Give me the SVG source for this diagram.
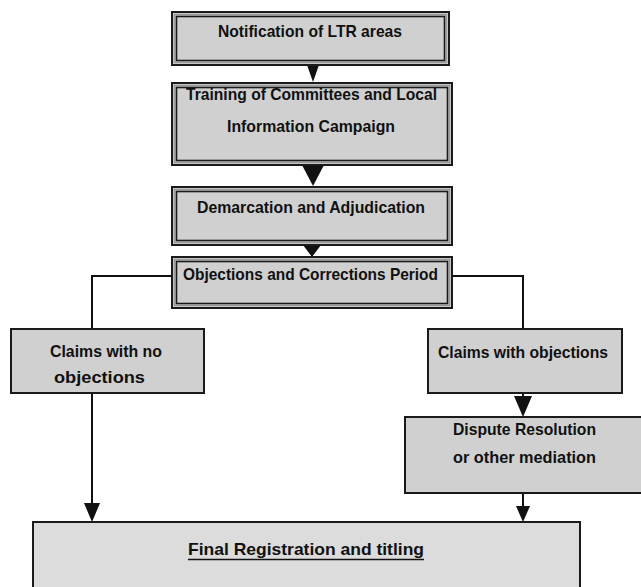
<svg xmlns="http://www.w3.org/2000/svg" width="641" height="587" viewBox="0 0 641 587">
  <style>
    .t { font-family: "Liberation Sans", Arial, sans-serif; font-weight: bold; font-size: 17px; fill: #111; text-anchor: middle; }
    .outer { fill: #d0d0d0; stroke: #1a1a1a; stroke-width: 2; }
    .inner { fill: none; stroke: #1a1a1a; stroke-width: 1.6; }
    .gap { fill: none; stroke: #9a9a9a; stroke-width: 1.4; }
    .box { fill: #d0d0d0; stroke: #1a1a1a; stroke-width: 2; }
    .final { fill: #dcdcdc; stroke: #1a1a1a; stroke-width: 2; }
    .wire { fill: none; stroke: #111; stroke-width: 2; }
    .head { fill: #111; }
  </style>

  <rect width="641" height="587" fill="#ffffff"/>

  <!-- connectors -->
  <g id="connectors">
    <polygon class="head" points="307,65 319,65 313,82"/>
    <polygon class="head" points="302,165 324,165 313,186"/>
    <polygon class="head" points="303,245 321,245 312,257"/>
    <polyline class="wire" points="172,276 92,276 92,329"/>
    <polyline class="wire" points="452,276 523,276 523,329"/>
    <line class="wire" x1="92" y1="393" x2="92" y2="505"/>
    <polygon class="head" points="84,503 100,503 92,522"/>
    <line class="wire" x1="523" y1="393" x2="523" y2="400"/>
    <polygon class="head" points="514,396 532,396 523,417"/>
    <line class="wire" x1="523" y1="493" x2="523" y2="508"/>
    <polygon class="head" points="516,506 530,506 523,522"/>
  </g>

  <g id="notification">
    <rect class="outer" x="172" y="12" width="277" height="53"/>
    <rect class="gap" x="174.5" y="14.5" width="272" height="48"/>
    <rect class="inner" x="176.5" y="16.5" width="268" height="44"/>
    <text class="t" x="310" y="37" textLength="184" lengthAdjust="spacingAndGlyphs">Notification of LTR areas</text>
  </g>

  <g id="training">
    <rect class="outer" x="172" y="83" width="280" height="82"/>
    <rect class="gap" x="174.5" y="85.5" width="275" height="77"/>
    <rect class="inner" x="176.5" y="87.5" width="271" height="73"/>
    <text class="t" x="311.5" y="100" textLength="251" lengthAdjust="spacingAndGlyphs">Training of Committees and Local</text>
    <text class="t" x="311" y="132" textLength="168" lengthAdjust="spacingAndGlyphs">Information Campaign</text>
  </g>

  <g id="demarcation">
    <rect class="outer" x="172" y="187" width="280" height="58"/>
    <rect class="gap" x="174.5" y="189.5" width="275" height="53"/>
    <rect class="inner" x="176.5" y="191.5" width="271" height="49"/>
    <text class="t" x="311" y="213" textLength="228" lengthAdjust="spacingAndGlyphs">Demarcation and Adjudication</text>
  </g>

  <g id="objections">
    <rect class="outer" x="172" y="257" width="280" height="51"/>
    <rect class="gap" x="174.5" y="259.5" width="275" height="46"/>
    <rect class="inner" x="176.5" y="261.5" width="271" height="42"/>
    <text class="t" x="310.5" y="280" textLength="255" lengthAdjust="spacingAndGlyphs">Objections and Corrections Period</text>
  </g>

  <g id="claims-no-objections">
    <rect class="box" x="11" y="329" width="193" height="64"/>
    <text class="t" x="106" y="357" textLength="112" lengthAdjust="spacingAndGlyphs">Claims with no</text>
    <text class="t" x="99.5" y="383" textLength="91" lengthAdjust="spacingAndGlyphs">objections</text>
  </g>

  <g id="claims-objections">
    <rect class="box" x="428" y="329" width="194" height="64"/>
    <text class="t" x="523" y="358" textLength="170" lengthAdjust="spacingAndGlyphs">Claims with objections</text>
  </g>

  <g id="dispute">
    <rect class="box" x="405" y="417" width="240" height="76"/>
    <text class="t" x="524.5" y="435" textLength="143" lengthAdjust="spacingAndGlyphs">Dispute Resolution</text>
    <text class="t" x="524.5" y="463" textLength="143" lengthAdjust="spacingAndGlyphs">or other mediation</text>
  </g>

  <g id="final">
    <rect class="final" x="33" y="522" width="547" height="75"/>
    <text class="t" x="306" y="555" textLength="236" lengthAdjust="spacingAndGlyphs">Final Registration and titling</text>
    <line x1="188" y1="559.5" x2="424" y2="559.5" stroke="#111" stroke-width="1.3"/>
  </g>
</svg>
